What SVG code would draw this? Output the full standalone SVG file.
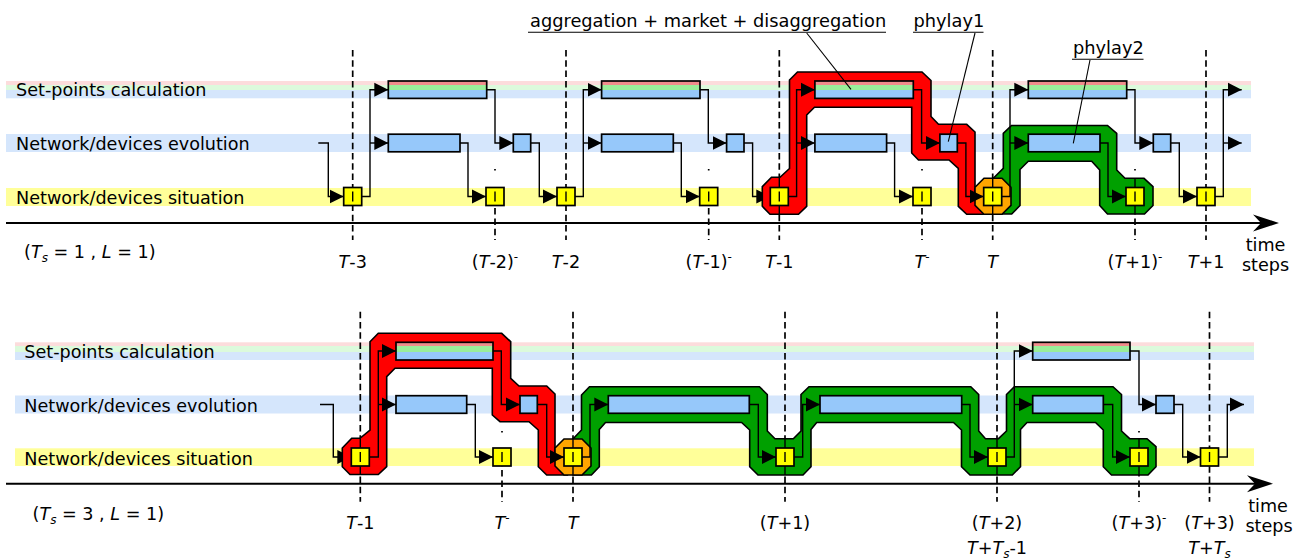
<svg xmlns="http://www.w3.org/2000/svg" width="1305" height="559" viewBox="0 0 1305 559">
<defs>
<marker id="ah" markerUnits="userSpaceOnUse" markerWidth="15" markerHeight="15" refX="14" refY="7.5" orient="auto" viewBox="0 0 15 15"><path d="M0,0.5 L14,7.5 L0,14.5 Z" fill="#000"/></marker>
</defs>
<style>
.bp{fill:#fcdcdc}.bg{fill:#dcfadc}.bb{fill:#d5e6fc}.by{fill:#ffff99}
.t{font-family:"DejaVu Sans",Verdana,sans-serif;font-size:17.6px;fill:#000}
.a{font-family:"DejaVu Sans",Verdana,sans-serif;font-size:17.8px;fill:#000}
.ol{fill:none;stroke:#000;stroke-width:1.7}
.evo{fill:#96c8fa;stroke:#000;stroke-width:1.7}
.yel{fill:#ffff00;stroke:#000;stroke-width:1.7}
.sr{fill:#f08c8c}.sg{fill:#99ee99}.sb{fill:#96c8fa}
.c{fill:none;stroke:#000;stroke-width:1.4;marker-end:url(#ah)}
.d{stroke:#000;stroke-width:1.7;stroke-dasharray:6.5 3.8}
.dm{stroke:#000;stroke-width:1.7;stroke-dasharray:1.5 17 6.5 3.8 6.5 3.8 6.5 3.8 6.5 3.8 6.5 3.8 6.5 3.8}
.hl{stroke:#000;stroke-width:1.6}
.red{fill:#ff0000}.grn{fill:#00a000}.org{fill:#ffa500}
.tk{stroke:#000;stroke-width:1.4}
.ld{stroke:#000;stroke-width:1.1}
.i{font-style:italic}
</style>

<g id="bands">
<rect class="bp" x="6" y="81" width="1245" height="4"/>
<rect class="bg" x="6" y="85" width="1245" height="5"/>
<rect class="bb" x="6" y="90" width="1245" height="8.3"/>
<rect class="bb" x="6" y="134" width="1245" height="18"/>
<rect class="by" x="6" y="188" width="1245" height="18"/>
<rect class="bp" x="15" y="342.3" width="1239" height="3.7"/>
<rect class="bg" x="15" y="346" width="1239" height="6"/>
<rect class="bb" x="15" y="352" width="1239" height="8"/>
<rect class="bb" x="15" y="395.5" width="1239" height="18"/>
<rect class="by" x="15" y="448.3" width="1239" height="17.7"/>
</g>
<g id="row-labels">
<text class="t" x="16" y="96">Set-points calculation</text>
<text class="t" x="16" y="150.2">Network/devices evolution</text>
<text class="t" x="16" y="204">Network/devices situation</text>
<text class="t" x="24.3" y="357.5">Set-points calculation</text>
<text class="t" x="24.3" y="411.5">Network/devices evolution</text>
<text class="t" x="24.3" y="465">Network/devices situation</text>
</g>

<g id="axes">
<line x1="6" y1="223" x2="1262" y2="223" stroke="#000" stroke-width="2"/>
<path d="M1279,223 L1253,214.5 L1261,223 L1253,231.5 Z" fill="#000"/>
<line x1="6" y1="483.7" x2="1256" y2="483.7" stroke="#000" stroke-width="2"/>
<path d="M1273,483.7 L1247,475.2 L1255,483.7 L1247,492.2 Z" fill="#000"/>
</g>

<g id="ticks">
<line class="d" x1="352.7" y1="50" x2="352.7" y2="240"/>
<line class="d" x1="566" y1="50" x2="566" y2="240"/>
<line class="d" x1="779.3" y1="50" x2="779.3" y2="240"/>
<line class="d" x1="992.7" y1="50" x2="992.7" y2="240"/>
<line class="d" x1="1206" y1="50" x2="1206" y2="240"/>
<line class="dm" x1="495" y1="169" x2="495" y2="240"/>
<line class="dm" x1="708.7" y1="169" x2="708.7" y2="240"/>
<line class="dm" x1="922" y1="169" x2="922" y2="240"/>
<line class="dm" x1="1135" y1="169" x2="1135" y2="240"/>
<line class="d" x1="360.3" y1="311.7" x2="360.3" y2="501.7"/>
<line class="d" x1="573" y1="311.7" x2="573" y2="501.7"/>
<line class="d" x1="785" y1="311.7" x2="785" y2="501.7"/>
<line class="d" x1="997" y1="311.7" x2="997" y2="501.7"/>
<line class="d" x1="1209.5" y1="311.7" x2="1209.5" y2="501.7"/>
<line class="dm" x1="502" y1="431" x2="502" y2="501.7"/>
<line class="dm" x1="1139" y1="431" x2="1139" y2="501.7"/>
</g>

<g id="connectors-under">
<path class="c" d="M744,143 H752.6 V196.5 H770.3"/>
<path class="c" d="M320,404.5 H333.3 V457 H351.3"/>
</g>

<g id="highlights">
<polygon id="top-red" class="hl red" points="789.5,80 797.5,72 922,72 931,80.5 931,116.5 938.5,124.3 966.7,124.3 975,132 975,196 985,214.3 966.7,214.3 958.3,206.3 958.3,168.3 949,160 918.5,160 911.7,153 911.7,107.3 814.5,107.3 806.7,115 806.7,206.3 798.5,214.3 770,214.3 762.3,206.3 762.3,186.7 771.5,177.3 780,177.3 789.5,168.5"/>
<polygon id="top-green" class="hl grn" points="993.3,178.3 1003.3,168.3 1003.3,133.3 1011.5,125.5 1107.5,125.5 1116.7,133.3 1116.7,170 1125,178.3 1144,178.3 1153,186.7 1153,205.5 1144.5,214 1107.5,214 1099.7,205.5 1099.7,170 1091.7,161.3 1028.3,161.3 1020,169.5 1020,205.5 1011.7,214 993,214"/>
<polygon id="top-orange" class="hl org" points="984,178.3 1002,178.3 1011,187.3 1011,205.3 1002,214.3 984,214.3 975,205.3 975,187.3"/>
<polygon id="bottom-red" class="hl red" points="370,341.7 378.3,333.3 501.7,333.3 510.7,341.7 510.7,378.3 519,386 546.7,386 555,394 555,455 567,475 546.7,475 538.3,466.7 538.3,430 529,421.7 500,421.7 492.3,415 492.3,368.3 395,368.3 386.7,376.7 386.7,466.7 378.3,474.5 350,474.5 342.3,466.7 342.3,448 351.7,438.3 360,438.3 370,430"/>
<polygon id="bottom-green" class="hl grn" points="572.7,439.3 581.5,430 581.5,395 589.5,386.7 759.4,386.7 767.3,394.5 767.3,431 775,438.7 793.3,438.7 801,431 801,394.5 809,386.7 970.8,386.7 978.7,394.5 978.7,431 985.5,438.7 998.5,438.7 1006.5,431 1006.5,394.5 1014.3,386.7 1113,386.7 1121.5,394.5 1121.5,431 1129.7,438.7 1147,438.7 1156,446.7 1156,466.7 1148,475 1111.5,475 1103.3,466.7 1103.3,430 1095.5,422.5 1027,422.5 1020.5,429.5 1020.5,466.7 1012.3,475 970,475 961.5,466.7 961.5,430 953.5,422.5 816.7,422.5 811,429.5 811,466.7 803,475 758,475 749.7,466.7 749.7,430 741.6,422.5 605.5,422.5 599.3,429.5 599.3,466.7 591.4,475 573,475"/>
<polygon id="bottom-orange" class="hl org" points="564,439 582,439 591,448 591,466 582,475 564,475 555,466 555,448"/>
</g>

<g id="tick-marks">
<line class="tk" x1="779.3" y1="177.3" x2="779.3" y2="214.3"/>
<line class="tk" x1="992.7" y1="178.3" x2="992.7" y2="214.3"/>
<line class="tk" x1="1135" y1="178.3" x2="1135" y2="214"/>
<line class="tk" x1="360.3" y1="438.3" x2="360.3" y2="474.5"/>
<line class="tk" x1="573" y1="439" x2="573" y2="475"/>
<line class="tk" x1="785" y1="438.7" x2="785" y2="475"/>
<line class="tk" x1="997" y1="438.7" x2="997" y2="475"/>
<line class="tk" x1="1139" y1="438.7" x2="1139" y2="475"/>
</g>

<g id="connectors">
<path class="c" d="M318.3,143 H328.3 V196.5 H343.7"/>
<path class="c" d="M361.7,196.5 H370 V89.7 H388.3"/>
<path class="c" d="M370,143 H388.3"/>
<path class="c" d="M486.7,89.7 H495 V143 H513.3"/>
<path class="c" d="M460,143 H468 V196.5 H486"/>
<path class="c" d="M530.7,143 H539.3 V196.5 H557"/>
<path class="c" d="M575,196.5 H583.3 V89.7 H601.6"/>
<path class="c" d="M583.3,143 H601.6"/>
<path class="c" d="M700,89.7 H708.3 V143 H726.6"/>
<path class="c" d="M673.3,143 H681.3 V196.5 H699.7"/>
<path class="c" d="M788.3,196.5 H796.6 V89.7 H814.9"/>
<path class="c" d="M796.6,143 H814.9"/>
<path class="c" d="M913.3,89.7 H921.6 V143 H939.9"/>
<path class="c" d="M886.6,143 H894.6 V196.5 H913"/>
<path class="c" d="M957.3,143 H965.9 V196.5 H983.7"/>
<path class="c" d="M1001.7,196.5 H1010 V89.7 H1028.3"/>
<path class="c" d="M1010,143 H1028.3"/>
<path class="c" d="M1126.7,89.7 H1135 V143 H1153.3"/>
<path class="c" d="M1100,143 H1108 V196.5 H1126"/>
<path class="c" d="M1170.7,143 H1179.3 V196.5 H1197"/>
<path class="c" d="M1215,196.5 H1223.3 V89.7 H1241.7"/>
<path class="c" d="M1223.3,143 H1241.7"/>

<path class="c" d="M369.3,457 H378.3 V351 H396"/>
<path class="c" d="M378.3,404.5 H396"/>
<path class="c" d="M493,351 H501.3 V404.5 H520"/>
<path class="c" d="M466.7,404.5 H475.3 V457 H493"/>
<path class="c" d="M537.3,404.5 H546.7 V457 H564"/>
<path class="c" d="M582,457 H590 V404.5 H608.3"/>
<path class="c" d="M749.3,404.5 H758.3 V457 H776"/>
<path class="c" d="M794,457 H802.7 V404.5 H820"/>
<path class="c" d="M961.7,404.5 H970 V457 H988"/>
<path class="c" d="M1006,457 H1014.3 V351 H1032.7"/>
<path class="c" d="M1014.3,404.5 H1032.7"/>
<path class="c" d="M1130,351 H1139 V404.5 H1156"/>
<path class="c" d="M1103.3,404.5 H1112.7 V457 H1130"/>
<path class="c" d="M1174,404.5 H1182.7 V457 H1200.5"/>
<path class="c" d="M1218.5,457 H1227.3 V404.5 H1244"/>
</g>

<g id="top-sp-1"><rect class="sr" x="388.3" y="81" width="98.4" height="4"/><rect class="sg" x="388.3" y="85" width="98.4" height="5"/><rect class="sb" x="388.3" y="90" width="98.4" height="8.4"/><rect class="ol" x="388.3" y="81" width="98.4" height="17.4"/></g>
<g id="top-sp-2"><rect class="sr" x="601.6" y="81" width="98.4" height="4"/><rect class="sg" x="601.6" y="85" width="98.4" height="5"/><rect class="sb" x="601.6" y="90" width="98.4" height="8.4"/><rect class="ol" x="601.6" y="81" width="98.4" height="17.4"/></g>
<g id="top-sp-3"><rect class="sr" x="814.9" y="81" width="98.4" height="4"/><rect class="sg" x="814.9" y="85" width="98.4" height="5"/><rect class="sb" x="814.9" y="90" width="98.4" height="8.4"/><rect class="ol" x="814.9" y="81" width="98.4" height="17.4"/></g>
<g id="top-sp-4"><rect class="sr" x="1028.3" y="81" width="98.4" height="4"/><rect class="sg" x="1028.3" y="85" width="98.4" height="5"/><rect class="sb" x="1028.3" y="90" width="98.4" height="8.4"/><rect class="ol" x="1028.3" y="81" width="98.4" height="17.4"/></g>

<g id="top-evo-1"><rect class="evo" x="388.3" y="134.2" width="71.7" height="17.6"/></g>
<g id="top-evo-2"><rect class="evo" x="601.6" y="134.2" width="71.7" height="17.6"/></g>
<g id="top-evo-3"><rect class="evo" x="814.9" y="134.2" width="71.7" height="17.6"/></g>
<g id="top-evo-4"><rect class="evo" x="1028.3" y="134.2" width="71.7" height="17.6"/></g>
<g id="top-small-1"><rect class="evo" x="513.3" y="134.2" width="17.4" height="17.6"/></g>
<g id="top-small-2"><rect class="evo" x="726.6" y="134.2" width="17.4" height="17.6"/></g>
<g id="top-small-3"><rect class="evo" x="939.9" y="134.2" width="17.4" height="17.6"/></g>
<g id="top-small-4"><rect class="evo" x="1153.3" y="134.2" width="17.4" height="17.6"/></g>

<g id="top-sit-Tm3"><rect class="yel" x="343.7" y="187.5" width="18" height="18"/><line class="tk" x1="352.7" y1="191.5" x2="352.7" y2="201.5"/></g>
<g id="top-sit-Tm2minus"><rect class="yel" x="486" y="187.5" width="18" height="18"/><line class="tk" x1="495" y1="191.5" x2="495" y2="201.5"/></g>
<g id="top-sit-Tm2"><rect class="yel" x="557" y="187.5" width="18" height="18"/><line class="tk" x1="566" y1="191.5" x2="566" y2="201.5"/></g>
<g id="top-sit-Tm1minus"><rect class="yel" x="699.7" y="187.5" width="18" height="18"/><line class="tk" x1="708.7" y1="191.5" x2="708.7" y2="201.5"/></g>
<g id="top-sit-Tm1"><rect class="yel" x="770.3" y="187.5" width="18" height="18"/><line class="tk" x1="779.3" y1="191.5" x2="779.3" y2="201.5"/></g>
<g id="top-sit-Tminus"><rect class="yel" x="913" y="187.5" width="18" height="18"/><line class="tk" x1="922" y1="191.5" x2="922" y2="201.5"/></g>
<g id="top-sit-T"><rect class="yel" x="983.7" y="187.5" width="18" height="18"/><line class="tk" x1="992.7" y1="191.5" x2="992.7" y2="201.5"/></g>
<g id="top-sit-Tp1minus"><rect class="yel" x="1126" y="187.5" width="18" height="18"/><line class="tk" x1="1135" y1="191.5" x2="1135" y2="201.5"/></g>
<g id="top-sit-Tp1"><rect class="yel" x="1197" y="187.5" width="18" height="18"/><line class="tk" x1="1206" y1="191.5" x2="1206" y2="201.5"/></g>

<g id="bot-sp-1"><rect class="sr" x="396" y="342.3" width="97" height="3.7"/><rect class="sg" x="396" y="346" width="97" height="6"/><rect class="sb" x="396" y="352" width="97" height="8"/><rect class="ol" x="396" y="342.3" width="97" height="17.7"/></g>
<g id="bot-sp-2"><rect class="sr" x="1032.7" y="342.3" width="97.3" height="3.7"/><rect class="sg" x="1032.7" y="346" width="97.3" height="6"/><rect class="sb" x="1032.7" y="352" width="97.3" height="8"/><rect class="ol" x="1032.7" y="342.3" width="97.3" height="17.7"/></g>
<g id="bot-evo-1"><rect class="evo" x="396" y="395.7" width="70.7" height="17.6"/></g>
<g id="bot-small-1"><rect class="evo" x="520" y="395.7" width="17.3" height="17.6"/></g>
<g id="bot-evo-long-1"><rect class="evo" x="608.3" y="395.7" width="141" height="17.6"/></g>
<g id="bot-evo-long-2"><rect class="evo" x="820" y="395.7" width="141.7" height="17.6"/></g>
<g id="bot-evo-3"><rect class="evo" x="1032.7" y="395.7" width="70.6" height="17.6"/></g>
<g id="bot-small-2"><rect class="evo" x="1156" y="395.7" width="18" height="17.6"/></g>

<g id="bot-sit-Tm1"><rect class="yel" x="351.3" y="448" width="18" height="18"/><line class="tk" x1="360.3" y1="452" x2="360.3" y2="462"/></g>
<g id="bot-sit-Tminus"><rect class="yel" x="493" y="448" width="18" height="18"/><line class="tk" x1="502" y1="452" x2="502" y2="462"/></g>
<g id="bot-sit-T"><rect class="yel" x="564" y="448" width="18" height="18"/><line class="tk" x1="573" y1="452" x2="573" y2="462"/></g>
<g id="bot-sit-Tp1"><rect class="yel" x="776" y="448" width="18" height="18"/><line class="tk" x1="785" y1="452" x2="785" y2="462"/></g>
<g id="bot-sit-Tp2"><rect class="yel" x="988" y="448" width="18" height="18"/><line class="tk" x1="997" y1="452" x2="997" y2="462"/></g>
<g id="bot-sit-Tp3minus"><rect class="yel" x="1130" y="448" width="18" height="18"/><line class="tk" x1="1139" y1="452" x2="1139" y2="462"/></g>
<g id="bot-sit-Tp3"><rect class="yel" x="1200.5" y="448" width="18" height="18"/><line class="tk" x1="1209.5" y1="452" x2="1209.5" y2="462"/></g>

<g id="annotations">
<text class="a" x="530" y="27.3">aggregation + market + disaggregation</text>
<line class="ld" x1="528" y1="32.3" x2="886" y2="32.3"/>
<line class="ld" x1="806.7" y1="33" x2="851" y2="89.3"/>
<text class="a" x="913.5" y="27.3">phylay1</text>
<line class="ld" x1="913" y1="32.3" x2="983.5" y2="32.3"/>
<line class="ld" x1="975" y1="33" x2="948.3" y2="141.7"/>
<text class="a" x="1073" y="54.3">phylay2</text>
<line class="ld" x1="1072" y1="59.3" x2="1143.5" y2="59.3"/>
<line class="ld" x1="1090" y1="60" x2="1073.3" y2="143.3"/>
</g>

<g id="axis-labels">
<text class="t" x="24" y="257.5">(<tspan class="i">T</tspan><tspan class="i" font-size="12" dy="4">s</tspan><tspan dy="-4"> = 1 , </tspan><tspan class="i">L</tspan> = 1)</text>
<text class="t" text-anchor="middle" x="352.7" y="268.3"><tspan class="i">T</tspan>-3</text>
<text class="t" text-anchor="middle" x="495" y="268.3">(<tspan class="i">T</tspan>-2)<tspan font-size="12" dy="-7">-</tspan></text>
<text class="t" text-anchor="middle" x="566" y="268.3"><tspan class="i">T</tspan>-2</text>
<text class="t" text-anchor="middle" x="708.7" y="268.3">(<tspan class="i">T</tspan>-1)<tspan font-size="12" dy="-7">-</tspan></text>
<text class="t" text-anchor="middle" x="779.3" y="268.3"><tspan class="i">T</tspan>-1</text>
<text class="t" text-anchor="middle" x="922" y="268.3"><tspan class="i">T</tspan><tspan font-size="12" dy="-7">-</tspan></text>
<text class="t" text-anchor="middle" x="992.7" y="268.3"><tspan class="i">T</tspan></text>
<text class="t" text-anchor="middle" x="1135" y="268.3">(<tspan class="i">T</tspan>+1)<tspan font-size="12" dy="-7">-</tspan></text>
<text class="t" text-anchor="middle" x="1206" y="268.3"><tspan class="i">T</tspan>+1</text>
<text class="t" text-anchor="middle" x="1265.5" y="250.5">time</text>
<text class="t" text-anchor="middle" x="1265.5" y="271">steps</text>

<text class="t" x="32.5" y="519.5">(<tspan class="i">T</tspan><tspan class="i" font-size="12" dy="4">s</tspan><tspan dy="-4"> = 3 , </tspan><tspan class="i">L</tspan> = 1)</text>
<text class="t" text-anchor="middle" x="360.3" y="529.3"><tspan class="i">T</tspan>-1</text>
<text class="t" text-anchor="middle" x="502" y="529.3"><tspan class="i">T</tspan><tspan font-size="12" dy="-7">-</tspan></text>
<text class="t" text-anchor="middle" x="573" y="529.3"><tspan class="i">T</tspan></text>
<text class="t" text-anchor="middle" x="785" y="529.3">(<tspan class="i">T</tspan>+1)</text>
<text class="t" text-anchor="middle" x="997" y="529.3">(<tspan class="i">T</tspan>+2)</text>
<text class="t" text-anchor="middle" x="1139" y="529.3">(<tspan class="i">T</tspan>+3)<tspan font-size="12" dy="-7">-</tspan></text>
<text class="t" text-anchor="middle" x="1209.5" y="529.3">(<tspan class="i">T</tspan>+3)</text>
<text class="t" text-anchor="middle" x="997" y="553.5"><tspan class="i">T</tspan>+<tspan class="i">T</tspan><tspan class="i" font-size="12" dy="4">s</tspan><tspan dy="-4">-1</tspan></text>
<text class="t" text-anchor="middle" x="1209.5" y="553.5"><tspan class="i">T</tspan>+<tspan class="i">T</tspan><tspan class="i" font-size="12" dy="4">s</tspan></text>
<text class="t" text-anchor="middle" x="1268" y="511.7">time</text>
<text class="t" text-anchor="middle" x="1269" y="532">steps</text>
</g>
</svg>
